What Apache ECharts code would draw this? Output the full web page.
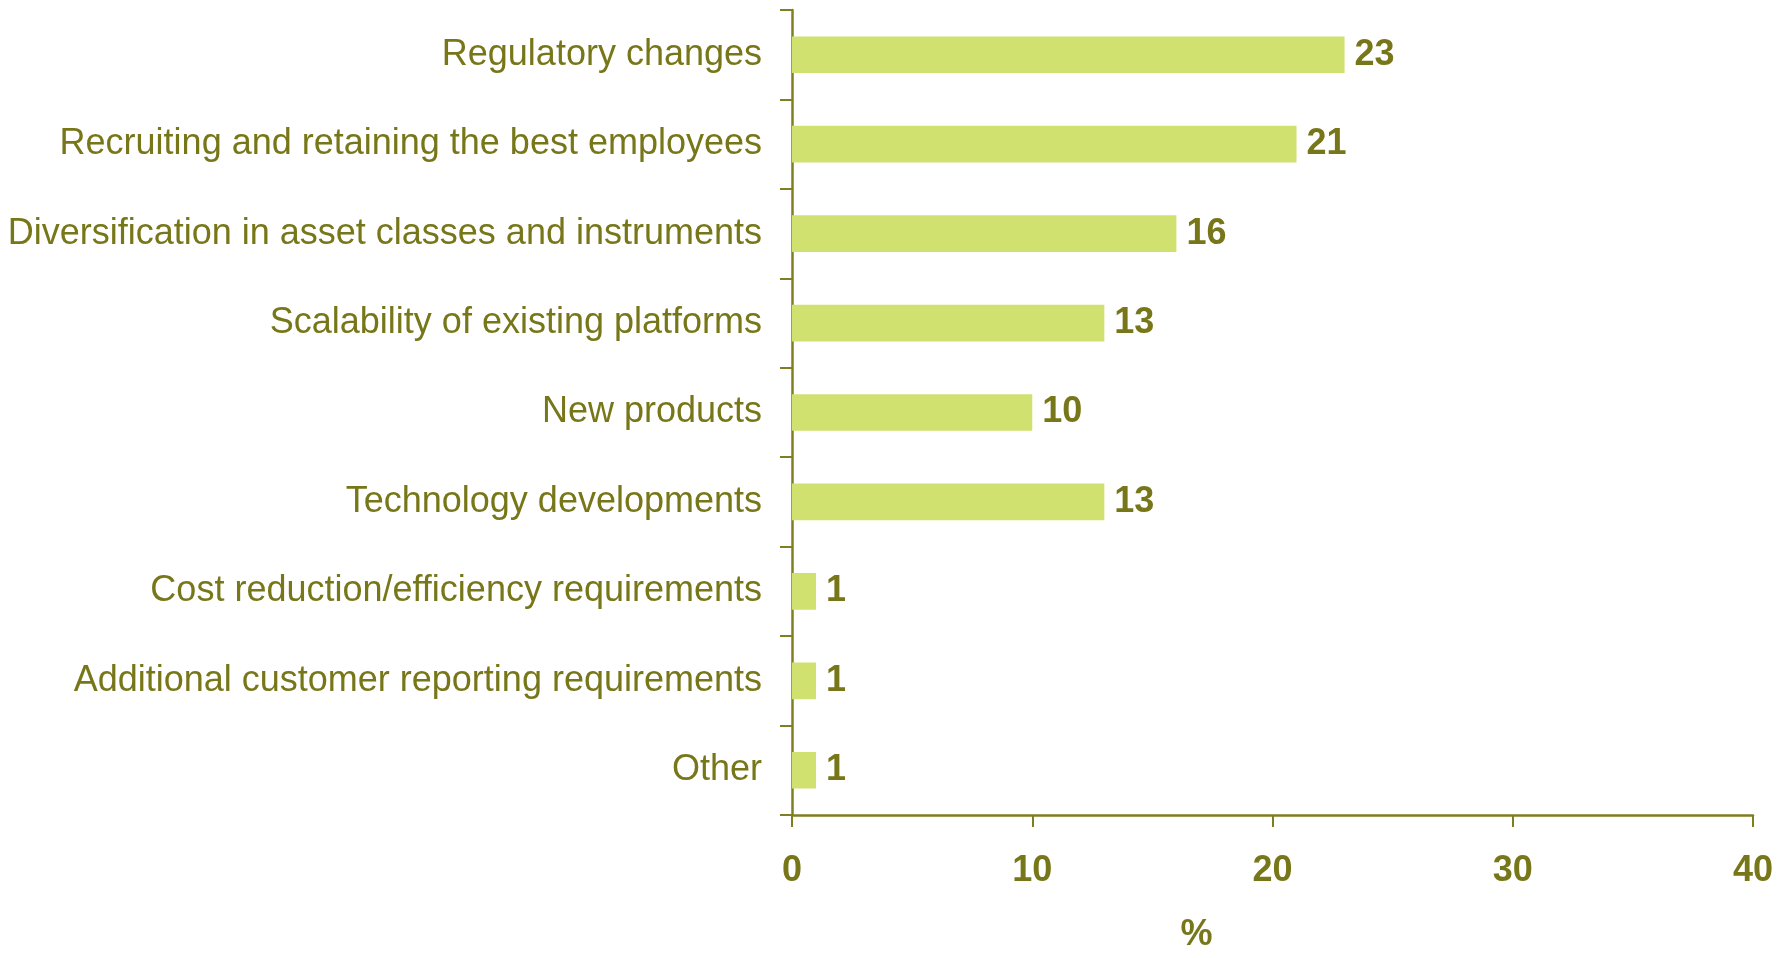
<!DOCTYPE html>
<html><head><meta charset="utf-8">
<script src="https://cdn.jsdelivr.net/npm/echarts@6/dist/echarts.min.js"></script>
<style>html,body{margin:0;padding:0;background:#fff}#c{width:1791px;height:958px}</style>
</head><body><div id="c"></div>
<script>
const categories = [
  "Regulatory changes",
  "Recruiting and retaining the best employees",
  "Diversification in asset classes and instruments",
  "Scalability of existing platforms",
  "New products",
  "Technology developments",
  "Cost reduction/efficiency requirements",
  "Additional customer reporting requirements",
  "Other"
];
const values = [23, 21, 16, 13, 10, 13, 1, 1, 1];
const xTicks = { min: 0, max: 40, interval: 10 };

const olive = '#77771a';
const axisCol = '#7f7f22';
const chart = echarts.init(document.getElementById('c'), null, {renderer: 'canvas'});
chart.setOption({
  animation: false,
  grid: { left: 792, right: 38, top: 10, bottom: 136, containLabel: false },
  xAxis: {
    type: 'value', min: xTicks.min, max: xTicks.max, interval: xTicks.interval,
    name: '%', nameLocation: 'middle', nameGap: 102,
    nameTextStyle: { color: olive, fontSize: 36, fontWeight: 'bold', fontFamily: 'Liberation Sans', padding: [0, 152, 0, 0] },
    axisLine: { show: true, lineStyle: { color: axisCol, width: 2.5 } },
    axisTick: { show: true, length: 12, lineStyle: { color: axisCol, width: 2 } },
    splitLine: { show: false },
    axisLabel: { color: olive, fontSize: 36, fontWeight: 'bold', fontFamily: 'Liberation Sans', margin: 38 }
  },
  yAxis: {
    type: 'category', data: categories, inverse: true,
    axisLine: { show: true, lineStyle: { color: axisCol, width: 2.5 } },
    axisTick: { show: true, length: 12, lineStyle: { color: axisCol, width: 2 } },
    axisLabel: { color: olive, fontSize: 36, fontFamily: 'Liberation Sans', margin: 30 }
  },
  series: [{
    type: 'bar', data: values, barCategoryGap: '59%',
    itemStyle: { color: '#d1e170' },
    label: { show: true, position: 'right', distance: 10, color: olive, fontSize: 36, fontWeight: 'bold', fontFamily: 'Liberation Sans' }
  }]
});
</script></body></html>
